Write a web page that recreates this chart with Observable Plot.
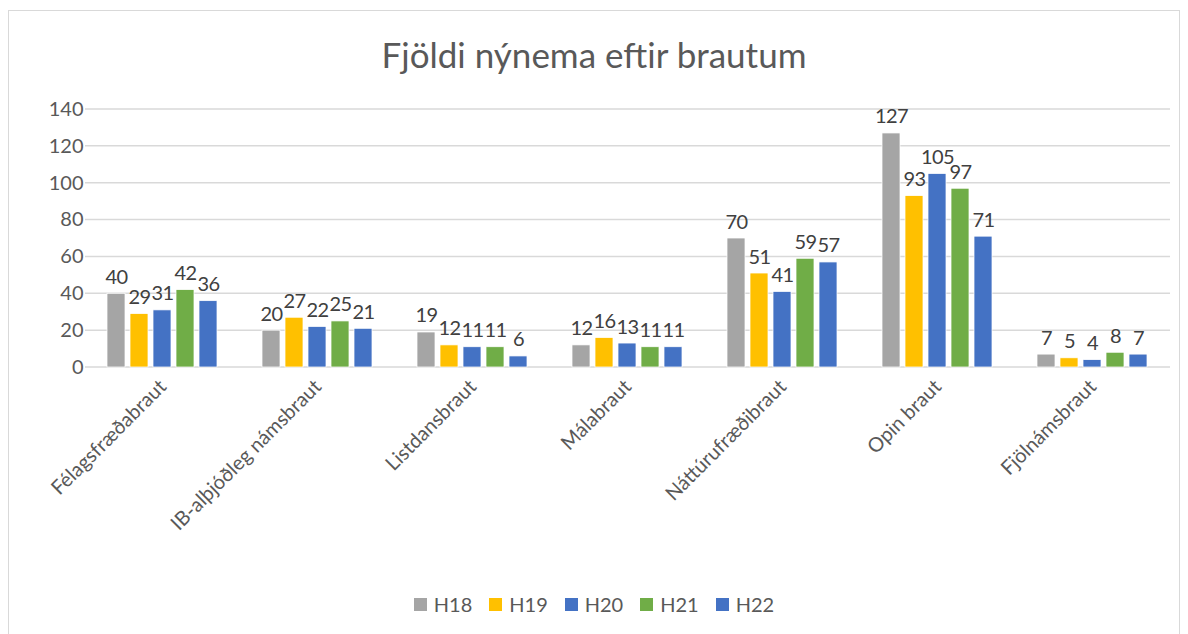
<!DOCTYPE html>
<html>
<head>
<meta charset="utf-8">
<script src="https://cdn.jsdelivr.net/npm/d3@7"></script>
<script src="https://cdn.jsdelivr.net/npm/@observablehq/plot@0.6"></script>
<style>
  html, body { margin: 0; padding: 0; background: #fff; }
  body { width: 1188px; height: 634px; position: relative; overflow: hidden; font-family: Lato, "Open Sans", sans-serif; }
  #frame { position: absolute; left: 8px; top: 10px; width: 1172px; height: 640px; border: 1.5px solid #d9d9d9; box-sizing: border-box; }
  #title { position: absolute; left: 0; width: 1188px; top: 33px; text-align: center; font-size: 35px; color: #595959; }
  #chart { position: absolute; left: 0; top: 90px; }
  #legend { position: absolute; left: 0; width: 1188px; top: 592px; display: flex; justify-content: center; gap: 17px; font-size: 20px; color: #595959; }
  #legend .item { display: flex; align-items: center; gap: 7px; }
  #legend .sw { width: 13px; height: 13px; display: inline-block; }
  .labels text { letter-spacing: -0.6px; }
</style>
</head>
<body>
<div id="frame"></div>
<div id="title">Fjöldi nýnema eftir brautum</div>
<div id="chart"></div>
<div id="legend"></div>
<script>
const categories = ["Félagsfræðabraut", "IB-alþjóðleg námsbraut", "Listdansbraut", "Málabraut", "Náttúrufræðibraut", "Opin braut", "Fjölnámsbraut"];
const seriesNames = ["H18", "H19", "H20", "H21", "H22"];
const seriesColors = ["#A5A5A5", "#FFC000", "#4472C4", "#70AD47", "#4472C4"];
const H18 = [40, 20, 19, 12, 70, 127, 7];
const H19 = [29, 27, 12, 16, 51, 93, 5];
const H20 = [31, 22, 11, 13, 41, 105, 4];
const H21 = [42, 25, 11, 11, 59, 97, 8];
const H22 = [36, 21, 6, 11, 57, 71, 7];
const yTicks = [0, 20, 40, 60, 80, 100, 120, 140];

const seriesValues = [H18, H19, H20, H21, H22];
const data = [];
categories.forEach((c, i) => {
  seriesNames.forEach((s, j) => {
    data.push({cat: c, series: s, value: seriesValues[j][i]});
  });
});

const W = 1188, H = 490, ML = 85, MR = 18, MT = 19, MB = 213;

const chart = Plot.plot({
  width: W,
  height: H,
  marginLeft: ML,
  marginRight: MR,
  marginTop: MT,
  marginBottom: MB,
  style: {fontFamily: "Lato, 'Open Sans', sans-serif", background: "transparent"},
  fx: {domain: categories, paddingInner: 0.26, paddingOuter: 0.13, label: null},
  x: {domain: seriesNames, paddingInner: 0.2, paddingOuter: 0, axis: null},
  y: {domain: [0, 140], ticks: yTicks, label: null},
  color: {domain: seriesNames, range: seriesColors},
  marks: [
    Plot.axisY({ticks: yTicks, tickSize: 0, tickPadding: 22, fontSize: 20, fill: "#595959", label: null}),
    Plot.axisFx({tickRotate: -45, tickSize: 0, tickPadding: 16, fontSize: 20, fill: "#595959", label: null, anchor: "bottom"}),
    Plot.barY(data, {fx: "cat", x: "series", y: "value", fill: "series", stroke: "white", strokeWidth: 0.75}),
    Plot.text(data, {fx: "cat", x: "series", y: "value", text: d => String(d.value), dy: -10, lineAnchor: "bottom", fontSize: 20, fill: "#404040", className: "labels"})
  ]
});

// full-width gridlines drawn from Plot's own y scale, placed beneath the marks
const yScale = chart.scale("y");
const svg = d3.select(chart);
const grid = svg.insert("g", ":scope > g").attr("class", "grid");
grid.selectAll("line").data(yTicks).join("line")
  .attr("x1", ML).attr("x2", W - MR)
  .attr("y1", d => yScale.apply(d)).attr("y2", d => yScale.apply(d))
  .attr("stroke", "#d9d9d9").attr("stroke-width", 1.5);

document.getElementById("chart").appendChild(chart);

const legend = document.getElementById("legend");
seriesNames.forEach((s, i) => {
  const item = document.createElement("div");
  item.className = "item";
  const sw = document.createElement("span");
  sw.className = "sw";
  sw.style.background = seriesColors[i];
  const t = document.createElement("span");
  t.textContent = s;
  item.appendChild(sw);
  item.appendChild(t);
  legend.appendChild(item);
});
</script>
</body>
</html>
